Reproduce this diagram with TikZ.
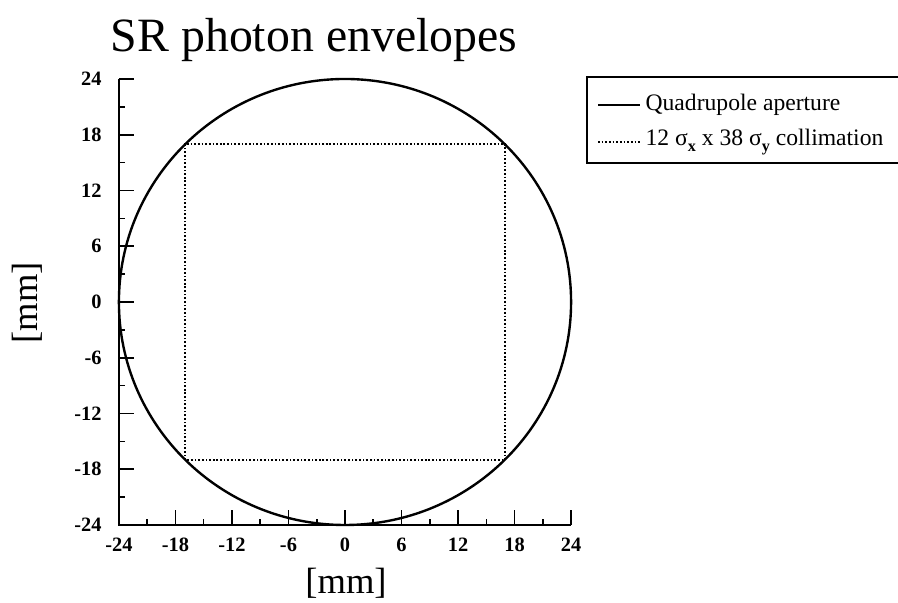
\documentclass[tikz,border=0pt]{standalone}
\usepackage{fontspec}
\setmainfont{Liberation Serif}
\usepackage{tikz}

\newcommand{\lowsub}[1]{\raisebox{-0.55ex}{\fontsize{11.5}{12}\selectfont\bfseries #1}}

\tikzset{
  aperture/.style={line width=1.7pt},
  collim/.style={line width=1.5pt,dash pattern=on 1.2pt off 1.4pt},
  ticklabel/.style={font=\fontsize{14.5}{15}\selectfont\bfseries,inner sep=0pt},
  legendtext/.style={font=\fontsize{16.8}{18}\selectfont,inner sep=0pt,anchor=west},
  bigtext/.style={font=\fontsize{26}{30}\selectfont},
}

\begin{document}
\begin{tikzpicture}[semithick]
    \useasboundingbox (0,0) rectangle (22.45,15.075);
    \node[font=\fontsize{34}{40}\selectfont,anchor=base] (title) at (7.85,13.775) {SR photon envelopes};
    \node[bigtext] (xlabel) at (8.65,0.5) {[mm]};
    \node[bigtext,rotate=90] (ylabel) at (0.675,7.5) {[mm]};

    \begin{scope}[shift={(8.625,7.525)},x=0.2355cm,y=0.2323cm]
    \draw[line width=1.4pt] (-24,24) -- (-24,-24) -- (24,-24);
    \foreach \t [count=\i] in {-24,-18,...,24} {
      \draw[line width=1.1pt] (\t,-24) -- ++(0pt,11pt);
      \draw[line width=1.1pt] (-24,\t) -- ++(11pt,0pt);
      \node[ticklabel,anchor=north,yshift=-9pt] (xt\i) at (\t,-24) {\t};
      \node[ticklabel,anchor=east,xshift=-12pt] (yt\i) at (-24,\t) {\t};
    }
    \foreach \t in {-21,-15,...,21} {
      \draw[line width=1.1pt] (\t,-24) -- ++(0pt,4.5pt);
      \draw[line width=1.1pt] (-24,\t) -- ++(4.5pt,0pt);
    }

    \draw[aperture] (0,0) circle [radius=24];
    \draw[collim] (-17,-17) rectangle (17,17);
    \end{scope}

    \draw[line width=1.2pt] (22.45,13.15) -| (14.675,11.0) -- (22.45,11.0);
    \draw[line width=1pt] (14.95,12.45) -- (16.0,12.45);
    \node[legendtext] (quad) at (16.13,12.45) {Quadrupole aperture};
    \draw[collim,line width=1pt] (14.95,11.525) -- (16.0,11.525);
    \node[legendtext] (coll) at (16.13,11.525) {12 σ\lowsub{x} x 38 σ\lowsub{y} collimation};
\end{tikzpicture}
\end{document}
